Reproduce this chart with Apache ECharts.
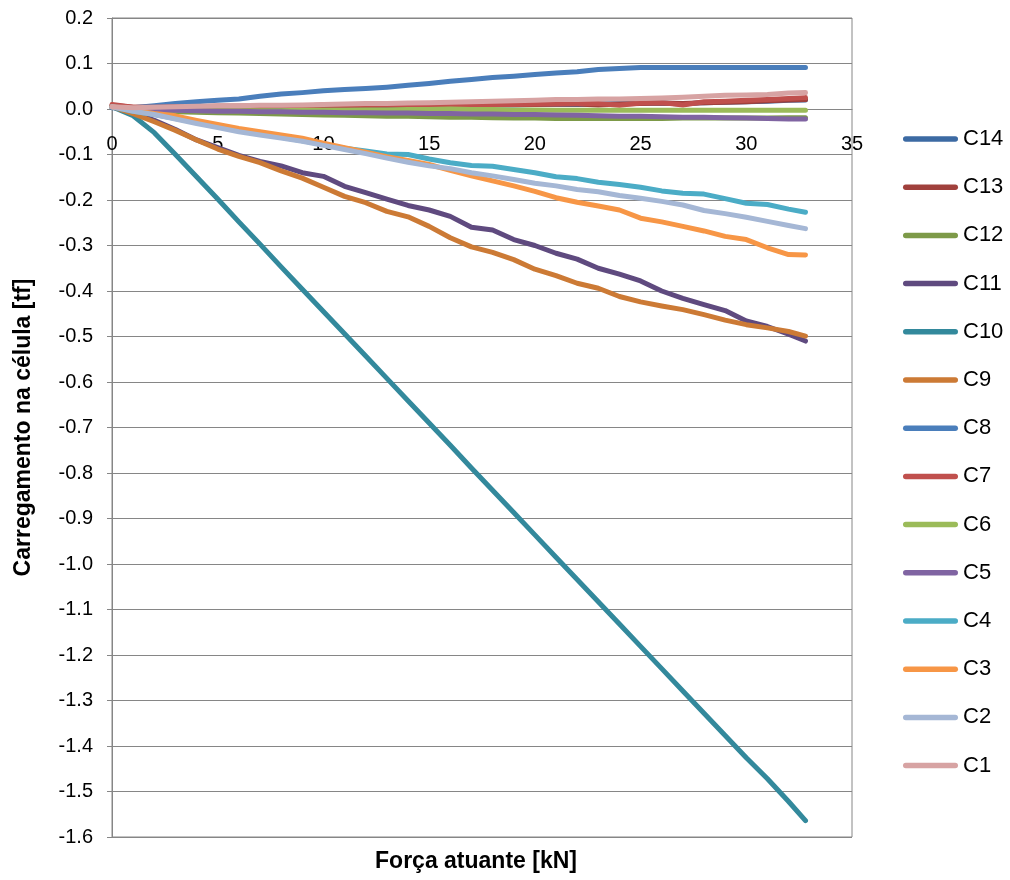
<!DOCTYPE html>
<html>
<head>
<meta charset="utf-8">
<script src="https://cdn.jsdelivr.net/npm/echarts@6/dist/echarts.min.js"></script>
<style>html,body{margin:0;padding:0;background:#fff;}#chart{width:1010px;height:880px;}</style>
</head>
<body>
<div id="chart"></div>
<script>
const forceKN = [0,1,2,3,4,5,6,7,8,9,10,11,12,13,14,15,16,17,18,19,20,21,22,23,24,25,26,27,28,29,30,31,32,32.8];

const C14 = [0.005,0.002,0.002,0.003,0.003,0.004,0.004,0.005,0.005,0.006,0.006,0.007,0.007,0.007,0.008,0.008,0.008,0.009,0.009,0.009,0.01,0.01,0.01,0.011,0.012,0.012,0.013,0.011,0.014,0.015,0.016,0.017,0.019,0.02];
const C13 = [0.008,0.004,0.004,0.005,0.005,0.006,0.006,0.006,0.007,0.007,0.008,0.008,0.008,0.009,0.009,0.009,0.01,0.01,0.01,0.01,0.01,0.011,0.011,0.009,0.011,0.012,0.013,0.012,0.014,0.015,0.016,0.018,0.02,0.021];
const C12 = [0.005,-0.002,-0.004,-0.006,-0.007,-0.008,-0.009,-0.01,-0.011,-0.012,-0.013,-0.014,-0.015,-0.016,-0.016,-0.017,-0.018,-0.018,-0.019,-0.02,-0.02,-0.021,-0.021,-0.021,-0.021,-0.021,-0.021,-0.02,-0.02,-0.02,-0.02,-0.02,-0.019,-0.019];
const C11 = [0.005,-0.008,-0.025,-0.045,-0.068,-0.085,-0.102,-0.115,-0.125,-0.14,-0.148,-0.17,-0.184,-0.198,-0.212,-0.222,-0.236,-0.26,-0.266,-0.287,-0.3,-0.317,-0.33,-0.35,-0.363,-0.378,-0.4,-0.416,-0.43,-0.443,-0.466,-0.478,-0.495,-0.51];
const C10 = [0.005,-0.015,-0.052,-0.1,-0.149,-0.198,-0.248,-0.297,-0.347,-0.396,-0.445,-0.494,-0.543,-0.592,-0.641,-0.69,-0.739,-0.789,-0.838,-0.887,-0.936,-0.985,-1.034,-1.083,-1.132,-1.181,-1.23,-1.279,-1.328,-1.377,-1.426,-1.472,-1.522,-1.564];
const C9 = [0.005,-0.01,-0.028,-0.047,-0.068,-0.088,-0.104,-0.118,-0.136,-0.152,-0.172,-0.192,-0.206,-0.225,-0.237,-0.258,-0.283,-0.303,-0.315,-0.331,-0.352,-0.366,-0.383,-0.394,-0.412,-0.424,-0.433,-0.441,-0.452,-0.464,-0.474,-0.481,-0.489,-0.499];
const C8 = [0.003,0.003,0.007,0.012,0.016,0.019,0.022,0.028,0.033,0.036,0.04,0.043,0.045,0.048,0.052,0.056,0.061,0.065,0.069,0.072,0.076,0.079,0.082,0.087,0.089,0.091,0.091,0.091,0.091,0.091,0.091,0.091,0.091,0.091];
const C7 = [0.01,0.004,0.004,0.005,0.005,0.006,0.006,0.007,0.007,0.007,0.008,0.008,0.009,0.009,0.009,0.01,0.01,0.01,0.01,0.01,0.011,0.011,0.012,0.012,0.008,0.013,0.014,0.009,0.016,0.017,0.019,0.021,0.023,0.025];
const C6 = [0.005,0.0,-0.002,-0.003,-0.004,-0.004,-0.004,-0.004,-0.004,-0.003,-0.003,-0.003,-0.002,-0.002,-0.001,-0.001,0.0,-0.001,-0.001,-0.002,-0.002,-0.003,-0.003,-0.003,-0.003,-0.003,-0.003,-0.003,-0.003,-0.003,-0.003,-0.003,-0.003,-0.003];
const C5 = [0.005,0.0,-0.002,-0.003,-0.004,-0.005,-0.005,-0.006,-0.006,-0.007,-0.007,-0.008,-0.008,-0.009,-0.009,-0.01,-0.01,-0.011,-0.011,-0.012,-0.012,-0.013,-0.014,-0.015,-0.016,-0.016,-0.017,-0.018,-0.018,-0.019,-0.02,-0.021,-0.022,-0.022];
const C4 = [0.005,-0.005,-0.012,-0.021,-0.03,-0.038,-0.046,-0.054,-0.062,-0.07,-0.078,-0.086,-0.092,-0.099,-0.1,-0.11,-0.118,-0.124,-0.126,-0.133,-0.14,-0.149,-0.153,-0.161,-0.166,-0.172,-0.18,-0.185,-0.187,-0.197,-0.207,-0.21,-0.22,-0.227];
const C3 = [0.005,-0.003,-0.01,-0.015,-0.025,-0.034,-0.043,-0.05,-0.057,-0.064,-0.075,-0.085,-0.095,-0.105,-0.113,-0.122,-0.135,-0.147,-0.158,-0.169,-0.181,-0.195,-0.205,-0.213,-0.222,-0.24,-0.248,-0.258,-0.268,-0.28,-0.287,-0.305,-0.32,-0.321];
const C2 = [0.005,-0.005,-0.012,-0.022,-0.032,-0.041,-0.05,-0.057,-0.064,-0.071,-0.08,-0.089,-0.098,-0.108,-0.117,-0.125,-0.131,-0.14,-0.147,-0.155,-0.163,-0.169,-0.177,-0.182,-0.19,-0.196,-0.203,-0.211,-0.223,-0.23,-0.238,-0.247,-0.256,-0.263];
const C1 = [0.005,0.003,0.004,0.005,0.006,0.007,0.007,0.008,0.008,0.009,0.01,0.011,0.012,0.012,0.013,0.014,0.015,0.016,0.017,0.018,0.019,0.021,0.021,0.022,0.022,0.023,0.024,0.026,0.028,0.03,0.031,0.032,0.035,0.036];

const seriesNames = ['C14','C13','C12','C11','C10','C9','C8','C7','C6','C5','C4','C3','C2','C1'];
const seriesValues = [C14,C13,C12,C11,C10,C9,C8,C7,C6,C5,C4,C3,C2,C1];
const seriesColors = ['#3c6aa3','#a0403c','#7d9a48','#5f4a7f','#33899c','#cc7a35','#4a7ebb','#c0504d','#9bbb59','#8064a2','#4bacc6','#f79646','#a5b7d5','#d7a3a3'];

const xTitle = 'Força atuante [kN]';
const yTitle = 'Carregamento na célula [tf]';
const FONT = 'Liberation Sans';

const GRID_TOP = 18, GRID_H = 819, Y_MIN = -1.6, Y_MAX = 0.2;
// distance from bottom of grid to the y=0 line (layout only)
const zeroOffset = GRID_H * (0 - Y_MIN) / (Y_MAX - Y_MIN);

const chart = echarts.init(document.getElementById('chart'), null, {renderer: 'canvas'});
chart.setOption({
  animation: false,
  backgroundColor: '#ffffff',
  grid: {left: 112, top: GRID_TOP, width: 740, height: GRID_H, show: true, borderColor: '#868686', borderWidth: 1, containLabel: false},
  xAxis: {
    type: 'value', min: 0, max: 35, interval: 5,
    position: 'bottom', offset: -zeroOffset,
    axisLine: {show: true, onZero: false, lineStyle: {color: '#868686', width: 1}},
    axisTick: {show: false},
    axisLabel: {color: '#000', fontSize: 20, fontFamily: FONT, margin: 25},
    splitLine: {show: false}
  },
  yAxis: {
    type: 'value', min: Y_MIN, max: Y_MAX, interval: 0.1,
    name: yTitle, nameLocation: 'middle', nameGap: 77,
    nameTextStyle: {color: '#000', fontSize: 23, fontWeight: 'bold', fontFamily: FONT},
    axisLine: {show: true, onZero: false, lineStyle: {color: '#868686', width: 1}},
    axisTick: {show: true, length: 5, lineStyle: {color: '#868686'}},
    axisLabel: {color: '#000', fontSize: 20, fontFamily: FONT, margin: 19,
      formatter: v => (Math.abs(v) < 1e-9 ? '0.0' : v.toFixed(1))},
    splitLine: {show: true, lineStyle: {color: '#868686', width: 1}}
  },
  legend: {
    orient: 'vertical', left: 898, top: 122,
    data: seriesNames,
    itemWidth: 55, itemHeight: 7, itemGap: 24.2,
    icon: 'path://M5,0 H95 A5,5 0 0 1 95,10 H5 A5,5 0 0 1 5,0 Z',
    textStyle: {color: '#000', fontSize: 22, fontFamily: FONT, lineHeight: 24, padding: [0,0,0,0]}
  },
  graphic: [{
    type: 'text', x: 476, y: 862,
    style: {text: xTitle, fill: '#000', font: 'bold 23px "Liberation Sans"', align: 'center', verticalAlign: 'middle'}
  }],
  series: seriesNames.map((n, k) => ({
    name: n, type: 'line', showSymbol: false, symbol: 'none',
    color: seriesColors[k],
    lineStyle: {width: 5, color: seriesColors[k], cap: 'round', join: 'round'},
    emphasis: {disabled: true},
    data: forceKN.map((x, i) => [x, seriesValues[k][i]])
  }))
});
</script>
</body>
</html>
